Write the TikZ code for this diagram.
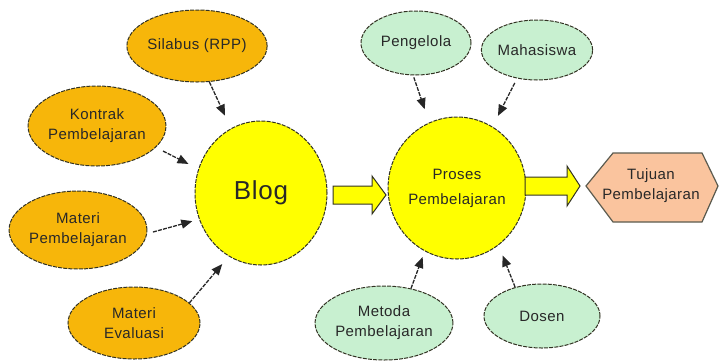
\documentclass[tikz,border=0pt]{standalone}
\usepackage{fontspec}
\setmainfont[LetterSpace=3]{Liberation Sans}
\usetikzlibrary{shapes.geometric,arrows.meta}
\definecolor{orangeC}{RGB}{247,182,10}
\definecolor{yellowC}{RGB}{255,255,0}
\definecolor{greenC}{RGB}{200,240,208}
\definecolor{peachC}{RGB}{250,196,158}
\definecolor{edgeC}{RGB}{50,50,35}
\definecolor{textC}{RGB}{40,40,40}
\begin{document}
\begin{tikzpicture}[x=1pt,y=-1pt,
  base/.style={ellipse, draw=edgeC, dash pattern=on 4pt off 1.2pt, line width=1pt,
    inner sep=0pt, align=center, text=textC, font=\fontsize{15}{20}\selectfont},
  orangenode/.style={base, fill=orangeC},
  yellownode/.style={base, fill=yellowC},
  greennode/.style={base, fill=greenC},
  arr/.style={-{Triangle[length=11pt,width=9pt]}, line width=1.3pt, dash pattern=on 4pt off 1.2pt, draw=black!85},
  blockarrow/.style={fill=yellowC, draw=edgeC, line width=1pt, line join=miter}
]
\useasboundingbox (0,0) rectangle (719,362);

% left group
\node[orangenode, minimum width=132pt, minimum height=72pt] (sil) at (197,46) {Silabus (RPP)};
\node[orangenode, minimum width=134pt, minimum height=80pt] (kon) at (97,126) {Kontrak\\Pembelajaran};
\node[orangenode, minimum width=136pt, minimum height=78pt] (matp) at (78,230) {Materi\\Pembelajaran};
\node[orangenode, minimum width=132pt, minimum height=72pt] (mate) at (134,323) {Materi\\Evaluasi};
\node[yellownode, minimum width=132pt, minimum height=144pt, font=\fontsize{26}{30}\selectfont] (blog) at (261,193) {Blog};

% right group
\node[greennode, minimum width=110pt, minimum height=64pt] (peng) at (416,43) {Pengelola};
\node[greennode, minimum width=110pt, minimum height=60pt] (maha) at (537,50) {Mahasiswa};
\node[yellownode, minimum width=128pt, minimum height=142pt] (proses) at (457,188) {Proses\\[5pt]Pembelajaran};
\node[greennode, minimum width=132pt, minimum height=74pt] (metoda) at (384,323) {Metoda\\Pembelajaran};
\node[greennode, minimum width=116pt, minimum height=64pt] (dosen) at (542,316) {Dosen};

% hexagon
\draw[fill=peachC, draw=edgeC!80, line width=1.2pt, line join=miter]
  (613,153) -- (702,153) -- (718,186) -- (702,222) -- (613,222) -- (586,186) -- cycle;
\node[align=center, text=textC, font=\fontsize{15}{20}\selectfont] (tujuan) at (651,186) {Tujuan\\Pembelajaran};

% block arrows
\draw[blockarrow] (333,186) -- (372,186) -- (372,176) -- (386,195) -- (372,214) -- (372,204) -- (333,204) -- cycle;
\draw[blockarrow] (525,177) -- (567,177) -- (567,166) -- (580,186) -- (567,206) -- (567,195) -- (525,195) -- cycle;

% arrows
\draw[arr, shorten >=14pt] (sil.-71) -- (blog.115);
\draw[arr, shorten <=8pt, shorten >=11pt] (kon.-20) -- (blog.159);
\draw[arr, shorten <=6pt, shorten >=7pt] (matp.-3) -- (blog.203);
\draw[arr, shorten >=10pt] (mate.20) -- (blog.243);
\draw[arr, shorten <=2pt, shorten >=14pt] (peng.-95) -- (proses.113);
\draw[arr, shorten <=5pt, shorten >=12pt] (maha.-125) -- (proses.60);
\draw[arr, shorten >=6pt] (metoda.52) -- (proses.243);
\draw[arr, shorten >=11pt] (dosen.133) -- (proses.-54);
\end{tikzpicture}
\end{document}
